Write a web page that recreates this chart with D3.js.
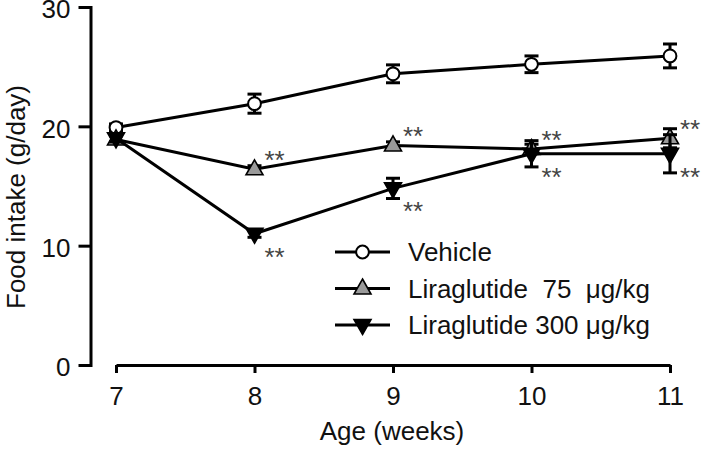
<!DOCTYPE html>
<html>
<head>
<meta charset="utf-8">
<script src="https://cdn.jsdelivr.net/npm/d3@7"></script>
<style>
  html, body { margin: 0; padding: 0; background: #fff; }
  svg { display: block; font-family: "Liberation Sans", Arial, sans-serif; }
</style>
</head>
<body>
<svg id="chart" width="709" height="449"></svg>
<script>
// ---- data ----
const weeks = [7, 8, 9, 10, 11];
const yTicks = [0, 10, 20, 30];
const seriesNames = ["Vehicle", "Liraglutide  75  \u03BCg/kg", "Liraglutide 300 \u03BCg/kg"];
const vehicleMean = [19.9, 21.9, 24.4, 25.2, 25.9];
const vehicleSem  = [0.3, 0.8, 0.75, 0.7, 1.0];
const lira75Mean  = [18.9, 16.4, 18.4, 18.1, 19.0];
const lira75Sem   = [0.3, 0.3, 0.3, 0.4, 0.8];
const lira300Mean = [19.0, 11.0, 14.8, 17.7, 17.7];
const lira300Sem  = [0.3, 0.3, 0.85, 1.1, 1.6];
const lira75Sig   = ["", "**", "**", "**", "**"];
const lira300Sig  = ["", "**", "**", "**", "**"];
const xLabel = "Age (weeks)";
const yLabel = "Food intake (g/day)";

// ---- layout ----
const svg = d3.select("#chart");
const x = d3.scaleLinear().domain([7, 11]).range([116, 670]);
const y = d3.scaleLinear().domain([0, 30]).range([365, 7]);
const FONT = 26;

const series = [
  { name: seriesNames[0], mean: vehicleMean, sem: vehicleSem, marker: "circle", fill: "#fff", sig: null },
  { name: seriesNames[1], mean: lira75Mean, sem: lira75Sem, marker: "up", fill: "#9a9a9a", sig: lira75Sig, sigDy: -15.5 },
  { name: seriesNames[2], mean: lira300Mean, sem: lira300Sem, marker: "down", fill: "#000", sig: lira300Sig, sigDy: 17 }
];

function drawMarker(g, type, fill) {
  if (type === "circle") {
    g.append("circle").attr("r", 6.4).attr("fill", fill).attr("stroke", "#000").attr("stroke-width", 2);
  } else if (type === "up") {
    g.append("path").attr("d", "M0,-9.5L8.5,5.5L-8.5,5.5Z").attr("fill", fill).attr("stroke", "#000").attr("stroke-width", 1.6).attr("stroke-linejoin", "miter");
  } else {
    g.append("path").attr("d", "M0,9.5L8.5,-5.5L-8.5,-5.5Z").attr("fill", fill).attr("stroke", "#000").attr("stroke-width", 1.6).attr("stroke-linejoin", "miter");
  }
}

// ---- axes ----
const yAxis = d3.axisLeft(y).tickValues(yTicks).tickSize(12).tickSizeOuter(0).tickPadding(8);
const gy = svg.append("g").attr("transform", "translate(90.5,0)").call(yAxis);
gy.select(".domain").attr("stroke-width", 3).attr("stroke-linecap", "square");
gy.selectAll(".tick line").attr("stroke-width", 3);
gy.selectAll(".tick text").attr("font-size", FONT).attr("font-family", "Liberation Sans, Arial, sans-serif").attr("fill", "#111").attr("dy", "0.42em");

const xAxis = d3.axisBottom(x).tickValues(weeks).tickSize(8).tickSizeOuter(0).tickPadding(14).tickFormat(d3.format("d"));
const gx = svg.append("g").attr("transform", "translate(0,365)").call(xAxis);
gx.select(".domain").attr("stroke-width", 3);
gx.selectAll(".tick line").attr("stroke-width", 3);
gx.selectAll(".tick text").attr("font-size", FONT).attr("font-family", "Liberation Sans, Arial, sans-serif").attr("fill", "#111");

svg.append("text").attr("x", 392).attr("y", 440).attr("text-anchor", "middle")
  .attr("font-size", FONT).attr("fill", "#111").text(xLabel);
svg.append("text").attr("transform", "translate(25,197) rotate(-90)").attr("text-anchor", "middle")
  .attr("font-size", FONT).attr("fill", "#111").text(yLabel);

// ---- series ----
series.forEach(s => {
  const g = svg.append("g");
  const pts = weeks.map((w, i) => ({ w, m: s.mean[i], e: s.sem[i], sig: s.sig ? s.sig[i] : "" }));
  g.append("path").datum(pts)
    .attr("d", d3.line().x(d => x(d.w)).y(d => y(d.m)))
    .attr("fill", "none").attr("stroke", "#000").attr("stroke-width", 3);
  pts.forEach(d => {
    const cx = x(d.w);
    g.append("line").attr("x1", cx).attr("x2", cx).attr("y1", y(d.m + d.e)).attr("y2", y(d.m - d.e))
      .attr("stroke", "#000").attr("stroke-width", 3);
    [d.m + d.e, d.m - d.e].forEach(v => {
      g.append("line").attr("x1", cx - 7).attr("x2", cx + 7).attr("y1", y(v)).attr("y2", y(v))
        .attr("stroke", "#000").attr("stroke-width", 3);
    });
    const mg = g.append("g").attr("transform", `translate(${cx},${y(d.m)})`);
    drawMarker(mg, s.marker, s.fill);
  });
  s.__pts = pts;
});

// significance stars
series.forEach(s => {
  if (!s.sig) return;
  s.__pts.forEach(d => {
    if (!d.sig) return;
    svg.append("text").attr("x", x(d.w) + 10).attr("y", y(d.m) + s.sigDy + 15)
      .attr("font-size", FONT).attr("fill", "#444").text(d.sig);
  });
});

// ---- legend ----
const legendRows = [252, 288.5, 325];
series.forEach((s, i) => {
  const ly = legendRows[i];
  const lg = svg.append("g");
  lg.append("line").attr("x1", 335).attr("x2", 390).attr("y1", ly).attr("y2", ly)
    .attr("stroke", "#000").attr("stroke-width", 3);
  const mg = lg.append("g").attr("transform", `translate(362.5,${ly})`);
  drawMarker(mg, s.marker, s.fill);
  lg.append("text").attr("x", 408).attr("y", ly + 9).attr("font-size", FONT).attr("fill", "#111")
    .style("white-space", "pre").text(s.name);
});
</script>
</body>
</html>
